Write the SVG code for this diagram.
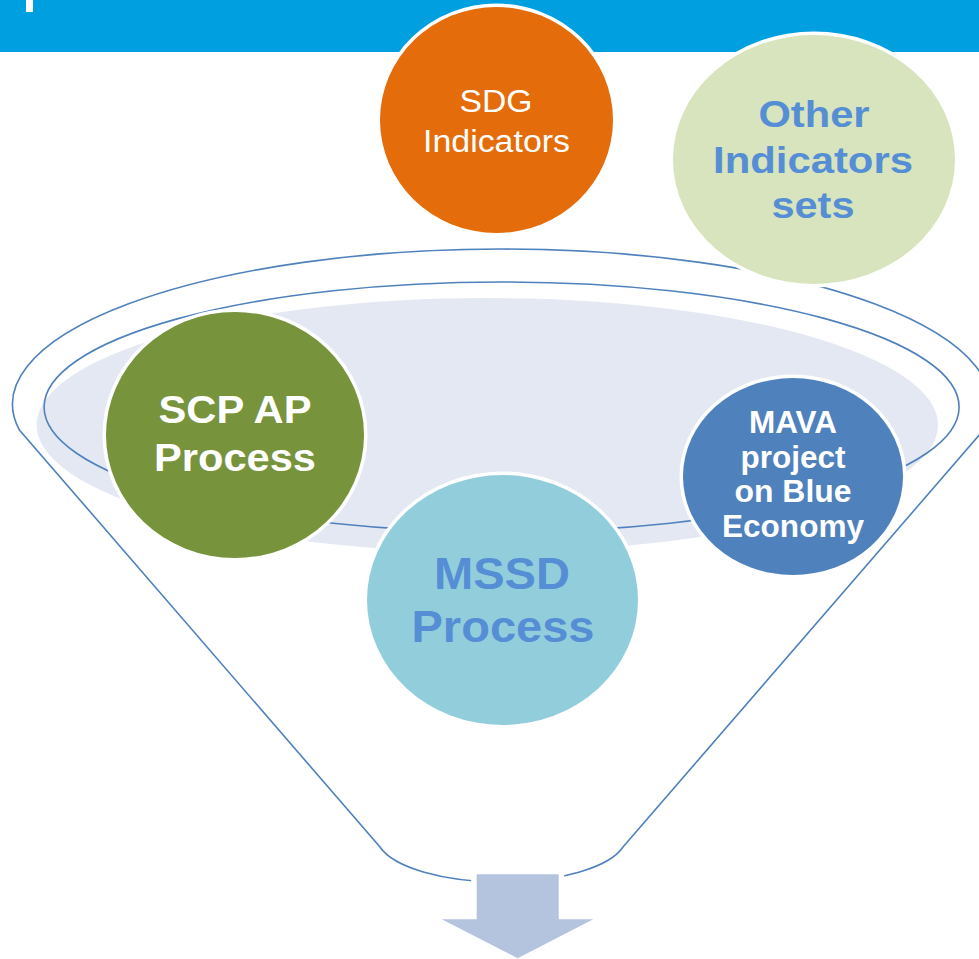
<svg xmlns="http://www.w3.org/2000/svg" width="979" height="959" viewBox="0 0 979 959">
<style>
.ring{fill:none;stroke:#4F81BD;stroke-width:1.6}
.node{stroke:#FFFFFF;stroke-width:7;paint-order:stroke}
text{font-family:"Liberation Sans",Arial,sans-serif;text-anchor:middle}
.w{fill:#FFFFFF}
.b{fill:#558ED5}
.bold{font-weight:bold}
</style>
<rect x="0" y="0" width="979" height="959" fill="#FFFFFF"/>
<g id="header">
<rect x="0" y="0" width="979" height="52" fill="#009FE0"/>
<rect x="26" y="0" width="7" height="12" fill="#FFFFFF"/>
</g>
<g id="funnel">
<path class="ring" d="M 19.4 430 A 489 155 0 1 1 983.6 430 L 623 847 A 125 45.7 0 0 1 380 847 Z"/>
<ellipse cx="487.3" cy="425" rx="450.7" ry="127" fill="#E3E8F2"/>
<ellipse class="ring" cx="501.6" cy="407" rx="457.5" ry="125" stroke="#5A8CC8"/>
</g>
<g id="sdg">
<ellipse class="node" cx="496.5" cy="120" rx="116.5" ry="113" fill="#E46C0A"/>
<text class="w" font-size="31" x="496" y="112" textLength="73" lengthAdjust="spacingAndGlyphs">SDG</text>
<text class="w" font-size="31" x="496.5" y="152" textLength="147" lengthAdjust="spacingAndGlyphs">Indicators</text>
</g>
<g id="other">
<ellipse class="node" cx="814" cy="159.5" rx="141" ry="124.5" fill="#D7E4BD"/>
<text class="b bold" font-size="37" x="814" y="127" textLength="111" lengthAdjust="spacingAndGlyphs">Other</text>
<text class="b bold" font-size="37" x="813" y="173" textLength="200" lengthAdjust="spacingAndGlyphs">Indicators</text>
<text class="b bold" font-size="37" x="813" y="218" textLength="83" lengthAdjust="spacingAndGlyphs">sets</text>
</g>
<g id="scp">
<ellipse class="node" cx="235" cy="435" rx="129" ry="123" fill="#77933C"/>
<text class="w bold" font-size="39" x="235" y="423" textLength="153" lengthAdjust="spacingAndGlyphs">SCP AP</text>
<text class="w bold" font-size="39" x="235" y="471" textLength="162" lengthAdjust="spacingAndGlyphs">Process</text>
</g>
<g id="mssd">
<ellipse class="node" cx="502.5" cy="600" rx="135.5" ry="125" fill="#92CDDC"/>
<text class="b bold" font-size="45" x="502" y="589" textLength="136" lengthAdjust="spacingAndGlyphs">MSSD</text>
<text class="b bold" font-size="45" x="503" y="642" textLength="183" lengthAdjust="spacingAndGlyphs">Process</text>
</g>
<g id="mava">
<ellipse class="node" cx="793" cy="476.5" rx="110" ry="98.5" fill="#4F81BD"/>
<text class="w bold" font-size="31" x="793" y="433" textLength="88" lengthAdjust="spacingAndGlyphs">MAVA</text>
<text class="w bold" font-size="31" x="793" y="468" textLength="105" lengthAdjust="spacingAndGlyphs">project</text>
<text class="w bold" font-size="31" x="793" y="502" textLength="117" lengthAdjust="spacingAndGlyphs">on Blue</text>
<text class="w bold" font-size="31" x="793" y="537" textLength="142" lengthAdjust="spacingAndGlyphs">Economy</text>
</g>
<g id="connectors">
<path d="M 476.7 874.3 L 558.7 874.3 L 558.7 919.3 L 593.3 919.3 L 517.7 958.3 L 441.7 919.3 L 476.7 919.3 Z" fill="#B4C4DF" stroke="#FFFFFF" stroke-width="11" paint-order="stroke" stroke-linejoin="miter"/>
</g>
</svg>
